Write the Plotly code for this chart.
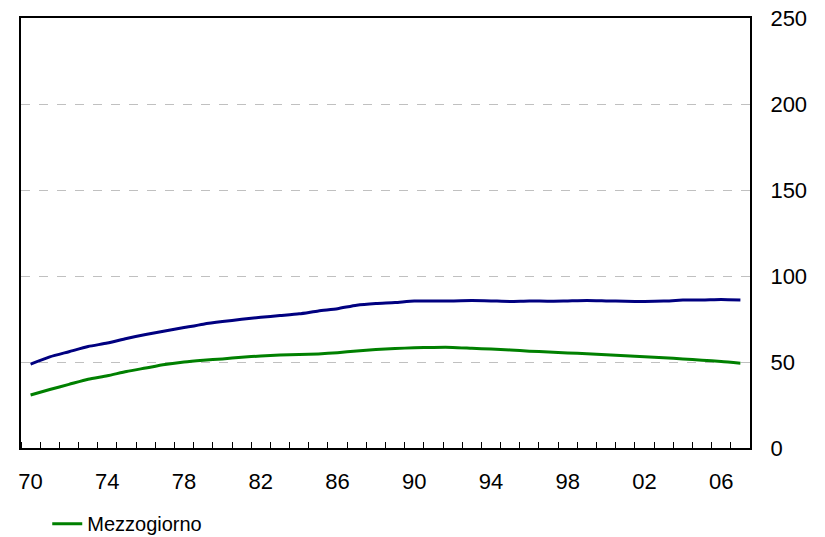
import plotly.graph_objects as go

years = list(range(1970, 2008))
tick_years = list(range(1970, 2007, 4))
tick_labels = [f"{y % 100:02d}" for y in tick_years]

centro_nord = [48.8, 53, 56, 59, 61, 63.7, 66, 68, 70, 72, 73.5, 74.8, 76, 77, 78, 79.7,
               81, 83, 84, 84.6, 85.5, 85.5, 85.5, 85.7, 85.5, 85.2, 85.5, 85.3, 85.5,
               85.7, 85.5, 85.3, 85.2, 85.4, 86, 86, 86.3, 86]
mezzogiorno = [30.8, 34, 37, 40, 42, 44.5, 46.5, 48.5, 50, 51, 51.8, 52.8, 53.5, 54.0, 54.3,
               54.7, 55.4, 56.4, 57.2, 57.8, 58.3, 58.5, 58.5, 58, 57.5, 57, 56.3, 55.8, 55.3,
               54.8, 54.2, 53.6, 53.1, 52.5, 51.8, 51, 50.3, 49.3]

fig = go.Figure()
fig.add_trace(go.Scatter(x=years, y=centro_nord, mode="lines", name="Centro-Nord",
                         line=dict(color="#000080", width=3, shape="spline", smoothing=0.6),
                         showlegend=False))
fig.add_trace(go.Scatter(x=years, y=mezzogiorno, mode="lines", name="Mezzogiorno",
                         line=dict(color="#008000", width=3, shape="spline", smoothing=0.6)))

fig.update_layout(
    width=825, height=537,
    margin=dict(l=21, r=75, t=18, b=89, autoexpand=False),
    paper_bgcolor="white", plot_bgcolor="white",
    font=dict(family="Liberation Sans, Arial, sans-serif", color="black"),
    legend=dict(x=0.036, y=-0.176, xanchor="left", yanchor="middle",
                font=dict(size=20), bgcolor="rgba(0,0,0,0)"),
    xaxis=dict(range=[1969.5, 2007.5], tickmode="array", tickvals=tick_years,
               ticktext=tick_labels, ticks="", showgrid=False, zeroline=False,
               showline=True, linecolor="black", linewidth=2, mirror=True,
               tickfont=dict(size=22), ticklabelstandoff=13, automargin=False,
               minor=dict(tickmode="linear", tick0=1969.5, dtick=1, ticks="inside",
                          ticklen=6, tickcolor="black", tickwidth=1, showgrid=False)),
    yaxis=dict(range=[0, 250], tickmode="array", tickvals=[0, 50, 100, 150, 200, 250],
               side="right", ticks="", showgrid=True, gridcolor="#c0c0c0",
               griddash="dash", gridwidth=1, zeroline=False, automargin=False,
               showline=True, linecolor="black", linewidth=2, mirror=True,
               tickfont=dict(size=22), ticklabelstandoff=14),
)

fig.write_html("out.html", config={"displayModeBar": False},
               post_script="document.body.style.margin='0';document.body.style.overflow='hidden';")
